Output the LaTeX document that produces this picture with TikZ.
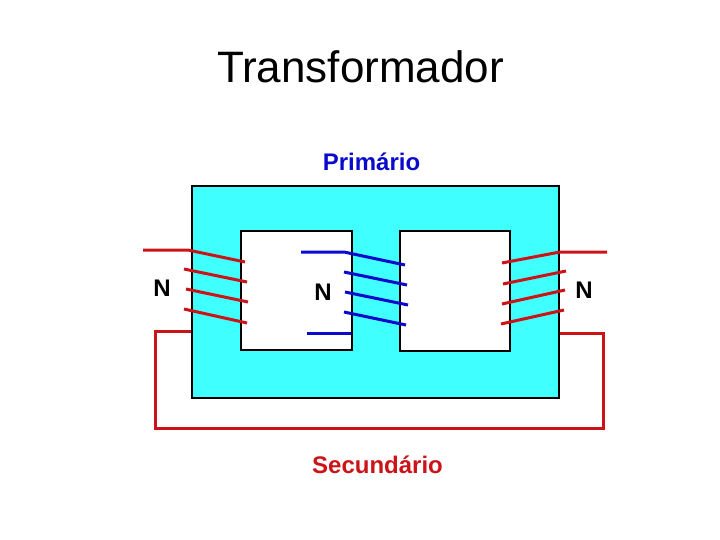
\documentclass[tikz,border=0pt]{standalone}
\usepackage{fontspec}
\setmainfont{Liberation Sans}

\begin{document}
\begin{tikzpicture}[
  x=1pt, y=-1pt,
  core/.style={draw=black,line width=2pt,fill=corecyan,minimum width=367pt,minimum height=212pt,inner sep=0pt},
  hole/.style={draw=black,line width=2pt,fill=white,minimum width=110.5pt,minimum height=119.5pt,inner sep=0pt},
  red wire/.style={draw=wirered,line width=3pt},
  blue wire/.style={draw=wireblue,line width=3pt},
  turnsign/.style={font=\bfseries\fontsize{24}{24}\selectfont,text=black,inner sep=0pt,anchor=base},
  windinglabel/.style={font=\bfseries\fontsize{24}{24}\selectfont,inner sep=0pt,anchor=base}
]
\definecolor{corecyan}{HTML}{40FFFF}
\definecolor{wirered}{HTML}{CC1418}
\definecolor{wireblue}{HTML}{0A0ACC}

\useasboundingbox (0,0) rectangle (720,540);

\node[font=\fontsize{44}{44}\selectfont,inner sep=0pt,anchor=base] (title) at (360.5,82.5) {Transformador};

% core
\node[core] (core) at (375.5,292) {};
\node[hole] (holeL) at (296.5,290.5) {};
\node[hole] (holeR) at (455,291) {};

\node[windinglabel,text=wireblue] (prim) at (371.5,170.5) {Primário};
\node[windinglabel,text=wirered] (sec) at (377.5,473) {Secundário};
\node[turnsign] (nL) at (162,296) {N};
\node[turnsign] (nM) at (323,300) {N};
\node[turnsign] (nR) at (584,298) {N};

% left winding
\coordinate (la) at (143,250);
\coordinate (lb) at (188,250);
\coordinate (l1) at (245,262);
\coordinate (l2a) at (184,269);
\coordinate (l2) at (247,282);
\coordinate (l3a) at (186,289);
\coordinate (l3) at (248,302);
\coordinate (l4a) at (184,309);
\coordinate (l4) at (247,323);

% middle winding
\coordinate (ma) at (301,252);
\coordinate (mb) at (344,252);
\coordinate (m1) at (405,265);
\coordinate (m2a) at (344,272);
\coordinate (m2) at (407,285);
\coordinate (m3a) at (345,292);
\coordinate (m3) at (408,305);
\coordinate (m4a) at (344,312);
\coordinate (m4) at (406,325);
\coordinate (mc) at (307,333);
\coordinate (md) at (351,333);

% right winding
\coordinate (ra) at (607,252);
\coordinate (rb) at (560,252);
\coordinate (r1) at (502,263);
\coordinate (r2a) at (566,271);
\coordinate (r2) at (503,284);
\coordinate (r3a) at (565,290);
\coordinate (r3) at (502,304);
\coordinate (r4a) at (564,310);
\coordinate (r4) at (501,324);

% return loop
\coordinate (ba) at (191,331);
\coordinate (bb) at (155,331);
\coordinate (bc) at (155,428);
\coordinate (bd) at (603,428);
\coordinate (be) at (603,333);
\coordinate (bf) at (560,333);

\draw[red wire] (la) -- (lb) -- (l1);
\draw[red wire] (l2a) -- (l2);
\draw[red wire] (l3a) -- (l3);
\draw[red wire] (l4a) -- (l4);

\draw[blue wire] (ma) -- (mb) -- (m1);
\draw[blue wire] (m2a) -- (m2);
\draw[blue wire] (m3a) -- (m3);
\draw[blue wire] (m4a) -- (m4);
\draw[blue wire] (mc) -- (md);

\draw[red wire] (ra) -- (rb) -- (r1);
\draw[red wire] (r2a) -- (r2);
\draw[red wire] (r3a) -- (r3);
\draw[red wire] (r4a) -- (r4);

\draw[red wire] (ba) -- (bb) -- (bc) -- (bd) -- (be) -- (bf);

\end{tikzpicture}
\end{document}
